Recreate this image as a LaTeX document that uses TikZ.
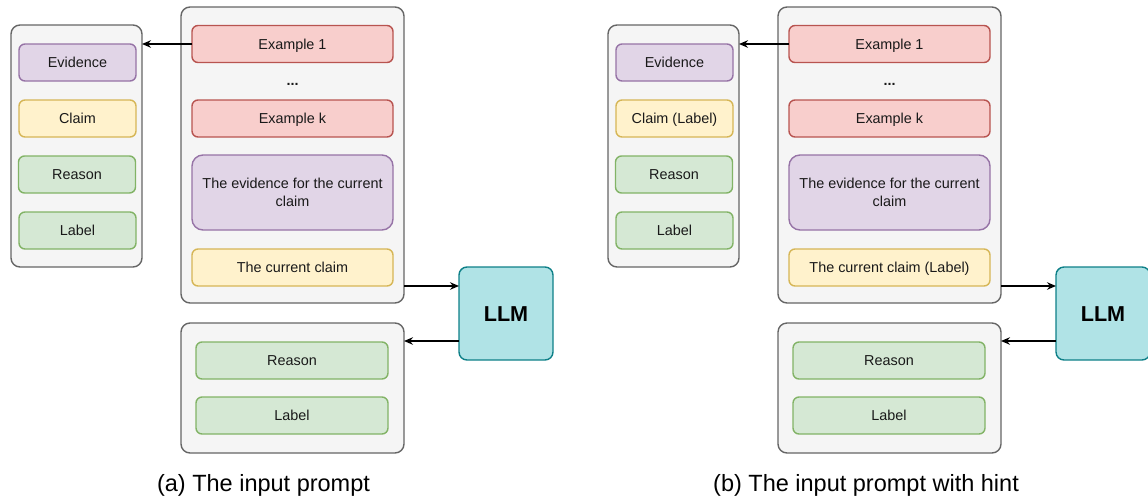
\documentclass[tikz,border=0pt]{standalone}
\usepackage{fontspec}
\setmainfont{Liberation Sans}
\usetikzlibrary{arrows.meta}

\definecolor{grayfill}{HTML}{F5F5F5}
\definecolor{graydraw}{HTML}{666666}
\definecolor{purfill}{HTML}{E1D5E7}
\definecolor{purdraw}{HTML}{9673A6}
\definecolor{yelfill}{HTML}{FFF2CC}
\definecolor{yeldraw}{HTML}{D6B656}
\definecolor{grnfill}{HTML}{D5E8D4}
\definecolor{grndraw}{HTML}{82B366}
\definecolor{redfill}{HTML}{F8CECC}
\definecolor{reddraw}{HTML}{B85450}
\definecolor{llmfill}{HTML}{B0E3E6}
\definecolor{llmdraw}{HTML}{0E8088}

\tikzset{
  base/.style={rectangle, line width=1.4pt, inner sep=0pt, outer sep=0pt,
    font=\fontsize{14.4}{18.5}\selectfont, text=black!90, align=center},
  container/.style={base, fill=grayfill, draw=graydraw, rounded corners=9pt},
  % single-line labels: centre the capitals in the box
  oneline/.style={text height=10.3pt, text depth=0pt},
  item/.style={base, rounded corners=6pt, minimum width=#1, minimum height=37pt},
  purbox/.style={item=#1, fill=purfill, draw=purdraw},
  yelbox/.style={item=#1, oneline, fill=yelfill, draw=yeldraw},
  grnbox/.style={item=#1, oneline, fill=grnfill, draw=grndraw},
  redbox/.style={item=#1, oneline, fill=redfill, draw=reddraw},
  llmbox/.style={base, fill=llmfill, draw=llmdraw, rounded corners=8pt,
    minimum width=94pt, minimum height=93pt,
    font=\fontsize{21.6}{24}\selectfont\bfseries, text=black,
    text height=15.5pt, text depth=0pt},
  flow/.style={line width=1.4pt, draw=black,
    -{Stealth[length=9pt, width=7.5pt, inset=3pt]}},
  caption/.style={font=\fontsize{23.5}{28}\selectfont, text=black, anchor=base}
}

% One prompt panel: #1 = name suffix, #2 = x offset,
% #3 = demonstration claim text, #4 = current claim text
\newcommand{\promptpanel}[4]{%
  \begin{scope}[xshift=#2]
    % demonstration layout
    \node[container, minimum width=131pt, minimum height=242pt] (ctx#1) at (76.5,146) {};
    \node[purbox=117pt, oneline] (ev#1) at (77.5,62.5) {Evidence};
    \node[yelbox=117pt] (cl#1) at (77.5,118.5) {#3};
    \node[grnbox=117pt] (re#1) at (77,174.5) {Reason};
    \node[grnbox=117pt] (la#1) at (77.5,230.5) {Label};
    % input prompt
    \node[container, minimum width=223pt, minimum height=296pt] (in#1) at (292.5,155) {};
    \node[redbox=201pt] (exa#1) at (292.5,44) {Example 1};
    \node[base] (dots#1) at (292.5,84) {\textbf{...}};
    \node[redbox=201pt] (exk#1) at (292.5,118.5) {Example k};
    \node[purbox=201pt, minimum height=75pt, rounded corners=11pt] (cev#1) at (292.5,192.5)
      {The evidence for the current\\claim};
    \node[yelbox=201pt] (ccl#1) at (292.5,267.5) {#4};
    % model output
    \node[container, minimum width=223pt, minimum height=130pt] (out#1) at (292.5,388) {};
    \node[grnbox=192pt] (ore#1) at (292,360.5) {Reason};
    \node[grnbox=192pt] (ola#1) at (292,415.5) {Label};
    % model
    \node[llmbox] (llm#1) at (506,313.5) {LLM};
    \coordinate (ret#1) at (0,341);
    % connectors
    \draw[flow] (exa#1.west) -- (exa#1.west -| ctx#1.east);
    \draw[flow] (ccl#1.south -| in#1.east) -- (ccl#1.south -| llm#1.west);
    \draw[flow] (ret#1 -| llm#1.west) -- (ret#1 -| out#1.east);
  \end{scope}%
}

\begin{document}
\begin{tikzpicture}[x=1pt, y=-1pt]
  \clip (0,0) rectangle (1148,499);
  \promptpanel{A}{0pt}{Claim}{The current claim}
  \promptpanel{B}{597pt}{Claim (Label)}{The current claim (Label)}
  \node[caption] (capA) at (263.5,491) {(a) The input prompt};
  \node[caption] (capB) at (866,491) {(b) The input prompt with hint};
\end{tikzpicture}
\end{document}
